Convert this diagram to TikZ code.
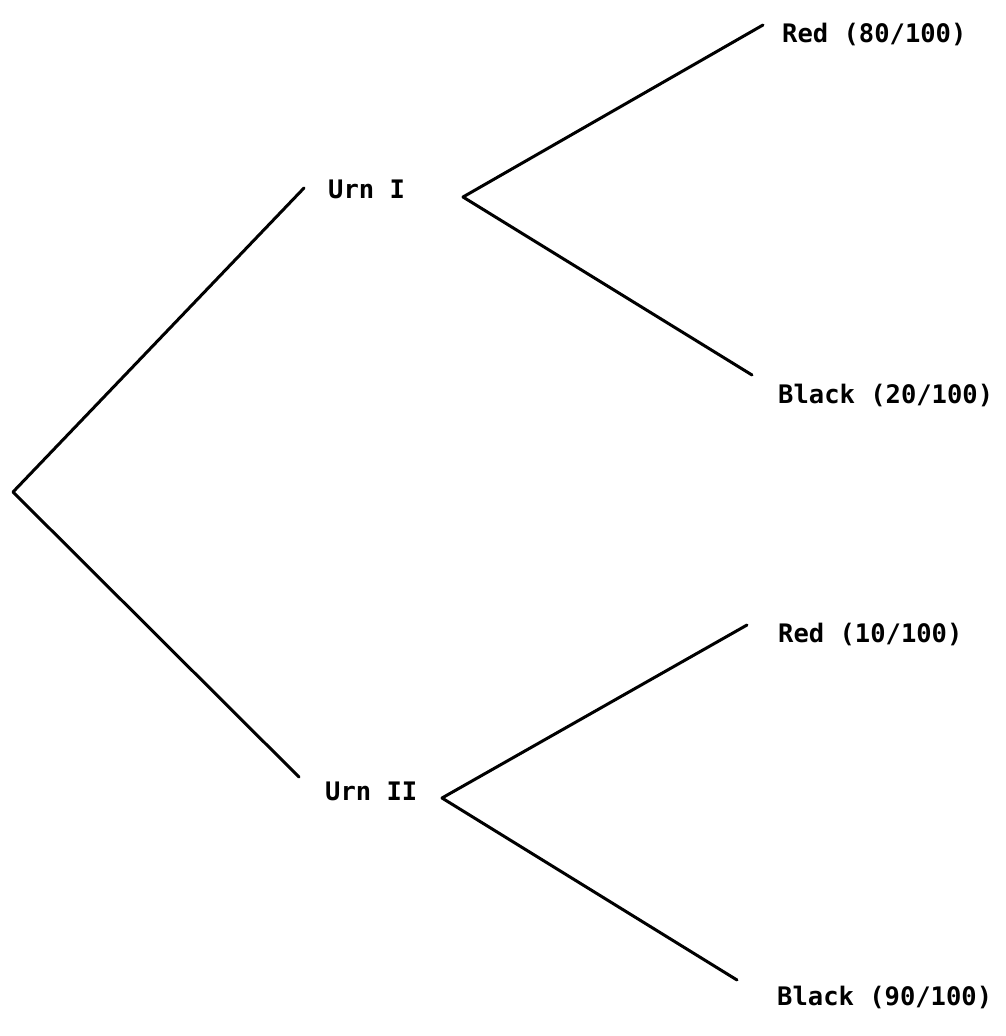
\documentclass[tikz,border=0pt]{standalone}
\usepackage{fontspec}
\setmonofont{DejaVu Sans Mono}
\begin{document}
\begin{tikzpicture}[x=1pt,y=-1pt,
  branch/.style={line width=3pt,line cap=round,line join=round},
  leaf/.style={anchor=base west,inner sep=0pt,
    font=\ttfamily\bfseries\fontsize{25.5}{30}\selectfont}]
\useasboundingbox (0,0) rectangle (1005,1036);
% branch points and line ends
\coordinate (root) at (13,492);
\coordinate (u1in) at (304,188);
\coordinate (u2in) at (299,777);
\coordinate (u1out) at (463,197);
\coordinate (u2out) at (442,798);
\coordinate (r1) at (763,25);
\coordinate (b1) at (752,375);
\coordinate (r2) at (747,625);
\coordinate (b2) at (737,980);
% labels
\node[leaf] (urn1) at (328,198) {Urn I};
\node[leaf] (urn2) at (325,800) {Urn II};
\node[leaf] (red1) at (782,42) {Red (80/100)};
\node[leaf] (black1) at (778,403) {Black (20/100)};
\node[leaf] (red2) at (778,642) {Red (10/100)};
\node[leaf] (black2) at (777,1005) {Black (90/100)};
% tree
\draw[branch] (u1in) -- (root) -- (u2in);
\draw[branch] (r1) -- (u1out) -- (b1);
\draw[branch] (r2) -- (u2out) -- (b2);
\end{tikzpicture}
\end{document}
